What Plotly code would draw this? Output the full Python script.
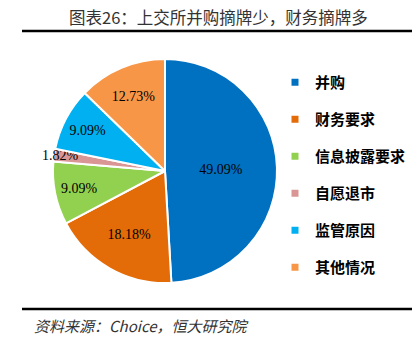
import plotly.graph_objects as go

categories = ["并购", "财务要求", "信息披露要求", "自愿退市", "监管原因", "其他情况"]
shares = [49.09, 18.18, 9.09, 1.82, 9.09, 12.73]
colors = ["#0070C0", "#E36C09", "#92D050", "#D99694", "#00B0F0", "#F79646"]
title_text = "图表26：上交所并购摘牌少，财务摘牌多"
source_text = "资料来源：Choice，恒大研究院"

W, H = 419, 352
fig = go.Figure()
fig.add_trace(go.Pie(
    labels=categories, values=shares, sort=False, direction="clockwise", rotation=0,
    marker=dict(colors=colors, line=dict(color="white", width=2)),
    texttemplate="%{value:.2f}%", textposition="inside", insidetextorientation="horizontal",
    textfont=dict(family="Liberation Serif", size=14, color="black"),
    domain=dict(x=[53 / W, 277 / W], y=[(H - 283) / H, (H - 59) / H]),
    showlegend=False, hoverinfo="label+percent",
))
for i, (c, col) in enumerate(zip(categories, colors)):
    fig.add_trace(go.Scatter(
        x=[None], y=[None], mode="markers", name=c, legendgroup=f"g{i}",
        marker=dict(symbol="square", size=7, color=col),
    ))

fig.update_layout(
    width=W, height=H, margin=dict(l=0, r=0, t=0, b=0),
    paper_bgcolor="white", plot_bgcolor="white",
    xaxis=dict(visible=False), yaxis=dict(visible=False),
    uniformtext=dict(mode="show", minsize=14),
    legend=dict(x=275 / W, y=1 - 66 / H, xanchor="left", yanchor="top",
                font=dict(family="Noto Sans CJK SC", size=15, color="black", weight="bold"),
                tracegroupgap=14.5, itemwidth=30, bgcolor="rgba(0,0,0,0)"),
    shapes=[
        dict(type="line", xref="paper", yref="paper", x0=22 / W, x1=412 / W,
             y0=1 - 31 / H, y1=1 - 31 / H, line=dict(color="black", width=2.5)),
        dict(type="line", xref="paper", yref="paper", x0=22 / W, x1=412 / W,
             y0=1 - 309 / H, y1=1 - 309 / H, line=dict(color="black", width=2.5)),
    ],
    annotations=[
        dict(text=title_text, xref="paper", yref="paper", x=218 / W, y=1 - 17 / H,
             xanchor="center", yanchor="middle", showarrow=False,
             font=dict(family="Noto Sans CJK SC", size=16.5, color="#333333", weight="normal")),
        dict(text="<i>" + source_text + "</i>", xref="paper", yref="paper", x=32 / W, y=1 - 325 / H,
             xanchor="left", yanchor="middle", showarrow=False,
             font=dict(family="Noto Sans CJK SC", size=15, color="#333333")),
    ],
)
fig.write_html("out.html")
